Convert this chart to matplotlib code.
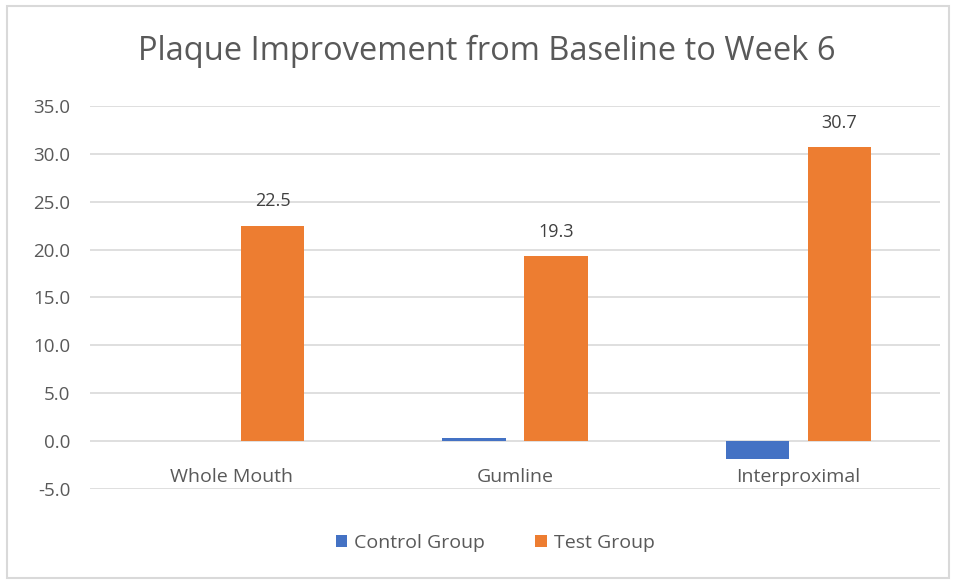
import matplotlib
matplotlib.use("Agg")
from matplotlib import pyplot
from matplotlib.patches import Rectangle
import numpy

categories = ["Whole Mouth", "Gumline", "Interproximal"]
control_group = [0.0, 0.3, -1.9]
test_group = [22.5, 19.3, 30.7]
y_ticks = [-5, 0, 5, 10, 15, 20, 25, 30, 35]

blue = "#4472C4"
orange = "#ED7D31"
grey_text = "#595959"
grid_color = "#D9D9D9"

pyplot.rcParams["font.family"] = ["Open Sans", "DejaVu Sans"]

fig = pyplot.figure(figsize=(9.56, 5.82), dpi=100)
ax = fig.add_axes([0.0941, 0.1598, 0.8892, 0.6581])

x = numpy.arange(len(categories))
width = 0.223
shift = 0.145

ax.bar(x - shift, control_group, width, color=blue, label="Control Group", zorder=3)
bars = ax.bar(x + shift, test_group, width, color=orange, label="Test Group", zorder=3)

for rect, val in zip(bars, test_group):
    ax.annotate(f"{val:.1f}", (rect.get_x() + rect.get_width() / 2, val),
                xytext=(0, 11), textcoords="offset points", ha="center", va="bottom",
                fontsize=13, color="#404040")

for xi, name in zip(x, categories):
    ax.annotate(name, (xi, 0), xytext=(0, -19), textcoords="offset points",
                ha="center", va="top", fontsize=14, color=grey_text)

ax.set_xlim(-0.5, len(categories) - 0.5)
ax.set_ylim(-5, 35)
ax.set_yticks(y_ticks)
ax.set_yticklabels([f"{t:.1f}" for t in y_ticks])
ax.set_xticks([])
ax.tick_params(axis="y", length=0, pad=14, labelsize=13.5, labelcolor=grey_text)
ax.grid(axis="y", color=grid_color, linewidth=1.2, zorder=0)
for side in ax.spines.values():
    side.set_visible(False)

fig.text(0.509, 0.912, "Plaque Improvement from Baseline to Week 6",
         ha="center", va="center", fontsize=23.5, color=grey_text)

fig.legend(loc="center", bbox_to_anchor=(0.518, 0.067), ncol=2, frameon=False,
           fontsize=14, handlelength=0.6, handleheight=0.6, handletextpad=0.35,
           columnspacing=2.6, labelcolor=grey_text)

fig.patches.append(Rectangle((0.007, 0.007), 0.986, 0.983, transform=fig.transFigure,
                             fill=False, edgecolor=grid_color, linewidth=1.5))

pyplot.savefig("out.png", dpi=100)
pyplot.close()
